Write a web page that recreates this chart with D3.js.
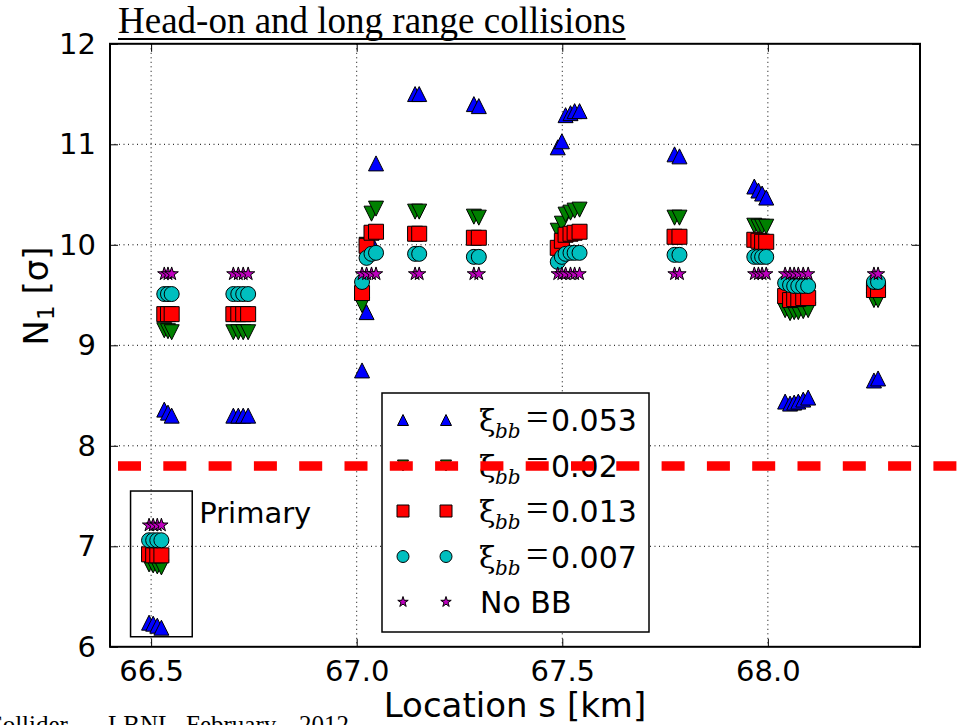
<!DOCTYPE html>
<html>
<head>
<meta charset="utf-8">
<script src="https://cdn.jsdelivr.net/npm/d3@7"></script>
<style>
  html, body { margin: 0; padding: 0; background: #fff; }
  svg { display: block; }
</style>
</head>
<body>
<svg id="chart" width="964" height="725"></svg>
<script>
// Collision locations along the ring, s [km]
const locations = [
  66.495, 66.505, 66.515, 66.525,
  66.532, 66.541, 66.550,
  66.700, 66.712, 66.724, 66.736,
  67.013, 67.024, 67.036, 67.047,
  67.142, 67.152,
  67.285, 67.297,
  67.489, 67.499, 67.508, 67.520, 67.530, 67.542,
  67.773, 67.785,
  67.967, 67.977, 67.986, 67.996,
  68.042, 68.054, 68.064, 68.074, 68.086, 68.098,
  68.258, 68.268
];
// N1 aperture [sigma] for each beam-beam parameter
const xi053 = [
  6.24, 6.23, 6.21, 6.19,
  8.36, 8.33, 8.30,
  8.30, 8.30, 8.30, 8.30,
  8.75, 9.33, 10.03, 10.81,
  11.50, 11.50,
  11.40, 11.38,
  10.97, 11.03, 11.29, 11.31, 11.33, 11.33,
  10.90, 10.88,
  10.58, 10.54, 10.51, 10.47,
  8.44, 8.42, 8.43, 8.44, 8.46, 8.48,
  8.65, 8.67
];
const xi020 = [
  6.82, 6.81, 6.80, 6.79,
  9.15, 9.14, 9.13,
  9.13, 9.13, 9.13, 9.13,
  9.40, 10.00, 10.31, 10.36,
  10.33, 10.33,
  10.28, 10.27,
  10.14, 10.21, 10.30, 10.32, 10.34, 10.35,
  10.27, 10.27,
  10.19, 10.18, 10.18, 10.18,
  9.35, 9.32, 9.33, 9.33, 9.34, 9.35,
  9.45, 9.45
];
const xi013 = [
  6.92, 6.91, 6.91, 6.91,
  9.31, 9.31, 9.31,
  9.31, 9.31, 9.31, 9.31,
  9.52, 9.99, 10.12, 10.13,
  10.11, 10.11,
  10.07, 10.07,
  9.97, 10.04, 10.10, 10.11, 10.12, 10.13,
  10.08, 10.08,
  10.05, 10.04, 10.03, 10.03,
  9.49, 9.45, 9.46, 9.46, 9.47, 9.47,
  9.55, 9.55
];
const xi007 = [
  7.06, 7.06, 7.06, 7.06,
  9.51, 9.51, 9.51,
  9.51, 9.51, 9.51, 9.51,
  9.63, 9.87, 9.91, 9.92,
  9.91, 9.91,
  9.88, 9.88,
  9.83, 9.88, 9.91, 9.92, 9.92, 9.92,
  9.90, 9.90,
  9.88, 9.88, 9.88, 9.88,
  9.62, 9.60, 9.59, 9.59, 9.59, 9.59,
  9.63, 9.63
];
const noBB = [
  7.21, 7.21, 7.21, 7.21,
  9.71, 9.71, 9.71,
  9.71, 9.71, 9.71, 9.71,
  9.71, 9.71, 9.71, 9.71,
  9.71, 9.71,
  9.71, 9.71,
  9.71, 9.71, 9.71, 9.71, 9.71, 9.71,
  9.71, 9.71,
  9.71, 9.71, 9.71, 9.71,
  9.71, 9.71, 9.71, 9.71, 9.71, 9.71,
  9.71, 9.71
];
const seriesLabels = ["0.053", "0.02", "0.013", "0.007", "No BB"];
const xTicks = [66.5, 67.0, 67.5, 68.0];
const yTicks = [6, 7, 8, 9, 10, 11, 12];
const apertureLimit = 7.8;           // horizontal tolerance line
const primaryBox = [66.45, 66.6, 6.1, 7.55];  // s0, s1, n0, n1
const footerWords = ["Collider –", "LBNL,", "February", "2012"];

const svg = d3.select("#chart");
const L = 110, R = 920, T = 43.8, B = 646.8;
const x = d3.scaleLinear().domain([66.4, 68.37]).range([L, R]);
const y = d3.scaleLinear().domain([6, 12]).range([B, T]);

const SANS = "DejaVu Sans, Verdana, sans-serif";
const SERIF = "Liberation Serif, Times New Roman, serif";

// Marker shapes (centered on 0,0)
function triUp(r) { return `M0,${-r}L${r},${r}L${-r},${r}Z`; }
function triDown(r) { return `M0,${r}L${r},${-r}L${-r},${-r}Z`; }
function square(r) { return `M${-r},${-r}H${r}V${r}H${-r}Z`; }
function circle(r) { return `M${r},0A${r},${r} 0 1,1 ${-r},0A${r},${r} 0 1,1 ${r},0Z`; }
function star(r) {
  const ri = r * 0.381966;
  let p = "";
  for (let i = 0; i < 10; i++) {
    const rr = i % 2 === 0 ? r : ri;
    const a = -Math.PI / 2 + i * Math.PI / 5;
    p += (i === 0 ? "M" : "L") + (rr * Math.cos(a)).toFixed(2) + "," + (rr * Math.sin(a)).toFixed(2);
  }
  return p + "Z";
}

const series = [
  { values: xi053, color: "#0000ff", shape: triUp,   r: 7.5, lr: 5.5 },
  { values: xi020, color: "#008000", shape: triDown, r: 7.5, lr: 5.5 },
  { values: xi013, color: "#ff0000", shape: square,  r: 7.5, lr: 6 },
  { values: xi007, color: "#00bfbf", shape: circle,  r: 7.5, lr: 6 },
  { values: noBB,  color: "#bf00bf", shape: star,    r: 7,   lr: 5.5 }
];

// Grid
const grid = svg.append("g").attr("stroke", "#000").attr("stroke-width", 1)
  .attr("stroke-dasharray", "1,3.5");
grid.selectAll("line.gx").data(xTicks).join("line")
  .attr("x1", d => x(d)).attr("x2", d => x(d)).attr("y1", T).attr("y2", B);
grid.selectAll("line.gy").data(yTicks.filter(d => d > 6 && d < 12)).join("line")
  .attr("y1", d => y(d)).attr("y2", d => y(d)).attr("x1", L).attr("x2", R);

// Axes with inward ticks on all four sides
const axB = svg.append("g").attr("transform", `translate(0,${B})`)
  .call(d3.axisBottom(x).tickValues(xTicks).tickFormat(d3.format(".1f")).tickSizeInner(-8).tickSizeOuter(0).tickPadding(14));
const axT = svg.append("g").attr("transform", `translate(0,${T})`)
  .call(d3.axisTop(x).tickValues(xTicks).tickFormat("").tickSizeInner(-8).tickSizeOuter(0));
const axL = svg.append("g").attr("transform", `translate(${L},0)`)
  .call(d3.axisLeft(y).tickValues(yTicks).tickFormat(d3.format("d")).tickSizeInner(-8).tickSizeOuter(0).tickPadding(14));
const axR = svg.append("g").attr("transform", `translate(${R},0)`)
  .call(d3.axisRight(y).tickValues(yTicks).tickFormat("").tickSizeInner(-8).tickSizeOuter(0));
[axB, axT, axL, axR].forEach(g => {
  g.select(".domain").remove();
  g.selectAll(".tick line").attr("stroke", "#000").attr("stroke-width", 1);
  g.selectAll("text").attr("font-family", SANS).attr("font-size", 29).attr("fill", "#000");
});
axB.selectAll("text").attr("dy", "0.68em");

// Frame
svg.append("rect").attr("x", L).attr("y", T).attr("width", R - L).attr("height", B - T)
  .attr("fill", "none").attr("stroke", "#000").attr("stroke-width", 2);

// Data markers, one series after another
const rows = locations.map((s, i) => ({ s, i }));
series.forEach(sr => {
  svg.append("g").selectAll("path").data(rows).join("path")
    .attr("d", sr.shape(sr.r))
    .attr("transform", d => `translate(${x(d.s)},${y(sr.values[d.i])})`)
    .attr("fill", sr.color).attr("stroke", "#000").attr("stroke-width", 1);
});

// Primary collision box and label
svg.append("rect")
  .attr("x", x(primaryBox[0])).attr("y", y(primaryBox[3]))
  .attr("width", x(primaryBox[1]) - x(primaryBox[0]))
  .attr("height", y(primaryBox[2]) - y(primaryBox[3]))
  .attr("fill", "none").attr("stroke", "#000").attr("stroke-width", 1.5);
svg.append("text").attr("x", x(primaryBox[1]) + 7).attr("y", 523)
  .attr("font-family", SANS).attr("font-size", 29).text("Primary");

// Legend
const lg = svg.append("g");
lg.append("rect").attr("x", 382).attr("y", 393).attr("width", 267).attr("height", 239)
  .attr("fill", "#fff").attr("stroke", "#000").attr("stroke-width", 1.5);
series.forEach((sr, k) => {
  const ry = 420 + k * 45.5;
  [403, 446].forEach(mx => {
    lg.append("path").attr("d", sr.shape(sr.lr)).attr("transform", `translate(${mx},${ry})`)
      .attr("fill", sr.color).attr("stroke", "#000").attr("stroke-width", 1);
  });
  const t = lg.append("text").attr("y", ry + 11).attr("font-size", 30).attr("fill", "#000");
  if (k < 4) {
    t.append("tspan").attr("x", 479).attr("font-family", "DejaVu Serif, serif").attr("font-size", 30).text("ξ");
    t.append("tspan").attr("x", 495).attr("dy", 7).attr("font-family", "DejaVu Serif, serif")
      .attr("font-style", "italic").attr("font-size", 20).text("bb");
    t.append("tspan").attr("x", 526).attr("dy", -7).attr("font-family", SERIF).attr("font-size", 40).text("=");
    t.append("tspan").attr("x", 551).attr("font-family", SANS).text(seriesLabels[k]);
  } else {
    t.append("tspan").attr("x", 480).attr("font-family", SANS).text(seriesLabels[k]);
  }
});

// Aperture tolerance line, running past the right spine
svg.append("line")
  .attr("x1", 118).attr("x2", 964)
  .attr("y1", y(apertureLimit)).attr("y2", y(apertureLimit))
  .attr("stroke", "#ff0000").attr("stroke-width", 9.5)
  .attr("stroke-dasharray", "23,22.3");

// Axis labels
svg.append("text").attr("x", (L + R) / 2).attr("y", 717).attr("text-anchor", "middle")
  .attr("font-family", SANS).attr("font-size", 34).text("Location s [km]");
const yl = svg.append("text").attr("transform", "translate(48,296) rotate(-90)")
  .attr("text-anchor", "middle").attr("font-family", SANS).attr("font-size", 34);
yl.append("tspan").text("N");
yl.append("tspan").attr("font-size", 23).attr("dy", 6).text("1");
yl.append("tspan").attr("dy", -6).text(" [σ]");

// Title
const title = svg.append("text").attr("x", 118).attr("y", 33)
  .attr("font-family", SERIF).attr("font-size", 37).attr("fill", "#000")
  .text("Head-on and long range collisions");
const tw = title.node().getComputedTextLength();
svg.append("line").attr("x1", 118).attr("x2", 118 + tw).attr("y1", 39).attr("y2", 39)
  .attr("stroke", "#000").attr("stroke-width", 2);

// Footer credit, partly running off the bottom edge
const foot = svg.append("text").attr("y", 732.5)
  .attr("font-family", SERIF).attr("font-size", 25).attr("fill", "#000");
[-14, 108, 186, 299].forEach((fx, i) => {
  foot.append("tspan").attr("x", fx).text(footerWords[i]);
});
</script>
</body>
</html>
